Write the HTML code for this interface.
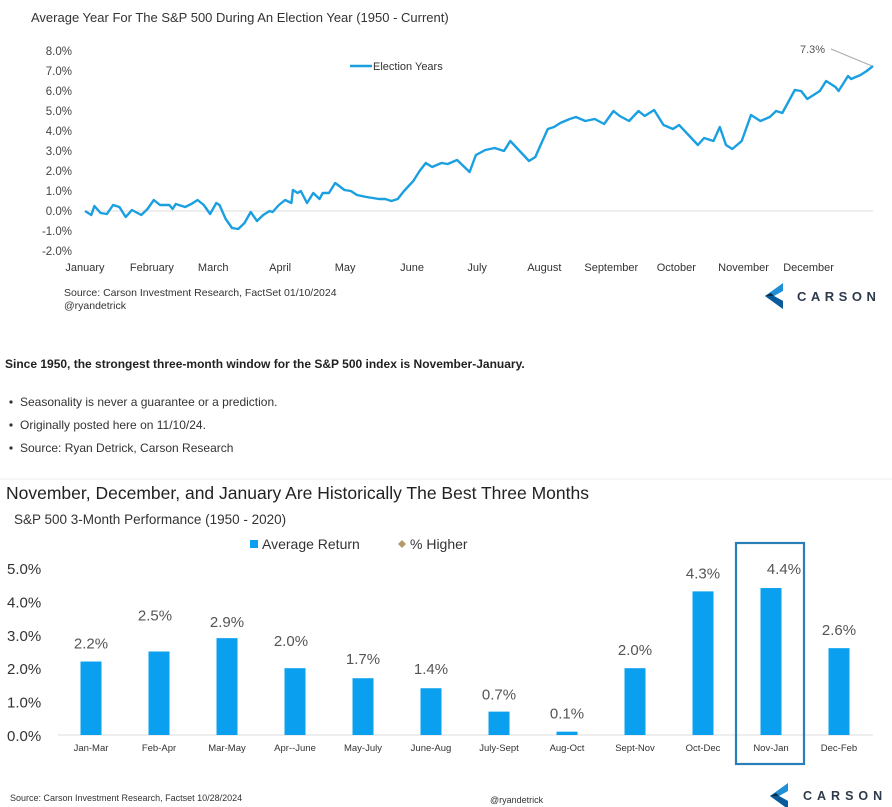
<!DOCTYPE html>
<html><head><meta charset="utf-8"><style>
body{margin:0;background:#fff;width:892px;height:807px;overflow:hidden;font-family:"Liberation Sans",sans-serif}
svg{position:absolute;left:0;top:0}
</style></head><body>
<svg width="892" height="807" viewBox="0 0 892 807">
<defs>
<g id="logo">
<polygon points="18,0 0,13 18,26 18,18 9,13 18,8" fill="#1f8fd6"/>
<polygon points="0,13 9,13 18,18 18,26" fill="#0b5a99"/>
<polygon points="0,13 6,10 9,13" fill="#0e2a44"/>
</g>
</defs>
<text x="31" y="22" font-size="13" fill="#333">Average Year For The S&amp;P 500 During An Election Year (1950 - Current)</text>
<g id="yAxisTop"></g>
<g id="xAxisTop"></g>
<g>
<line x1="350" y1="66" x2="372" y2="66" stroke="#1a9fe0" stroke-width="2.5"/>
<text x="373" y="70" font-size="11" fill="#333">Election Years</text>
</g>
<path id="lineTop" fill="none" stroke="#1a9fe0" stroke-width="2.4" stroke-linejoin="round"/>
<g>
<line x1="831" y1="49" x2="872" y2="66" stroke="#aaa" stroke-width="1"/>
<text x="800" y="53" font-size="11" fill="#555">7.3%</text>
</g>
<text x="64" y="296" font-size="10.5" fill="#333">Source: Carson Investment Research, FactSet 01/10/2024</text>
<text x="64" y="309" font-size="10.5" fill="#333">@ryandetrick</text>
<g>
<use href="#logo" x="765" y="283"/>
<text x="797" y="301" font-size="13" font-weight="bold" fill="#2d3a4a" letter-spacing="4.5">CARSON</text>
</g>
<text x="5" y="368" font-size="12" font-weight="bold" fill="#222">Since 1950, the strongest three-month window for the S&amp;P 500 index is November-January.</text>
<g font-size="12" fill="#333">
<circle cx="11" cy="402" r="1.6" fill="#333"/><text x="20" y="406">Seasonality is never a guarantee or a prediction.</text>
<circle cx="11" cy="425" r="1.6" fill="#333"/><text x="20" y="429">Originally posted here on 11/10/24.</text>
<circle cx="11" cy="448" r="1.6" fill="#333"/><text x="20" y="452">Source: Ryan Detrick, Carson Research</text>
</g>
<line x1="0" y1="479" x2="892" y2="479" stroke="#eee"/>
<text x="6" y="499" font-size="17.5" fill="#222">November, December, and January Are Historically The Best Three Months</text>
<text x="14" y="524" font-size="13.5" fill="#333">S&amp;P 500 3-Month Performance (1950 - 2020)</text>
<g>
<rect x="250" y="540" width="8" height="8" fill="#0aa0ef"/>
<text x="262" y="549" font-size="14" fill="#333">Average Return</text>
<polygon points="402,540 406,544 402,548 398,544" fill="#b59a6a"/>
<text x="410" y="549" font-size="14" fill="#333">% Higher</text>
</g>
<g id="yAxisBot"></g>
<g id="bars"></g>
<rect x="736" y="543" width="68" height="221" fill="none" stroke="#2a7fb8" stroke-width="2.2"/>
<text x="10" y="801" font-size="9" fill="#333">Source: Carson Investment Research, Factset 10/28/2024</text>
<text x="490" y="803" font-size="9" fill="#333">@ryandetrick</text>
<g>
<use href="#logo" x="770" y="783"/>
<text x="803" y="800" font-size="12.5" font-weight="bold" fill="#2d3a4a" letter-spacing="5">CARSON</text>
</g>
</svg>
<script>
const NS="http://www.w3.org/2000/svg";
// ---- top chart data ----
const topYTicks=[8,7,6,5,4,3,2,1,0,-1,-2];
const topMonths=["January","February","March","April","May","June","July","August","September","October","November","December"];
const topMonthDays=[0,21.4,41,62.4,83.2,104.6,125.4,146.9,168.3,189.1,210.6,231.4];
const topDays=[0,2,3,5,7,9,11,13,15,18,20,22,24,27,28,29,32,34,36,38,40,42,43,45,47,49,51,53,55,57,59,60,62,64,66,66.5,68,69,71,73,75,76,78,80,83,85,87,90,92,94,96,98,100,102,105,107,109,111,114,116,119,123,125,128,131,134,136,139,142,144,146,148,150,152,155,157,160,163,166,169,171,174,177,179,182,185,188,190,193,196,198,201,203,205,207,210,213,216,219,221,223,227,229,231,235,237,240,241,244,245,248,250,252];
const topVals=[0,-0.2,0.25,-0.1,-0.15,0.3,0.2,-0.3,0.05,-0.2,0.1,0.55,0.3,0.3,0.1,0.35,0.2,0.35,0.55,0.3,-0.15,0.4,0.3,-0.4,-0.85,-0.9,-0.6,-0.05,-0.5,-0.2,0,-0.05,0.3,0.55,0.4,1.05,0.9,1.0,0.4,0.9,0.6,0.9,0.9,1.4,1.05,1.0,0.8,0.7,0.65,0.6,0.6,0.5,0.6,1.0,1.5,2.0,2.4,2.2,2.4,2.35,2.55,1.95,2.8,3.05,3.15,3.0,3.5,3.0,2.5,2.7,3.4,4.1,4.2,4.4,4.6,4.7,4.5,4.6,4.35,5.0,4.75,4.5,5.0,4.75,5.05,4.3,4.1,4.3,3.8,3.3,3.65,3.5,4.2,3.3,3.1,3.5,4.8,4.5,4.7,5.0,4.9,6.05,6.0,5.6,6.0,6.5,6.2,6.0,6.75,6.6,6.8,7.0,7.25];
// ---- bottom chart data ----
const botYTicks=[5,4,3,2,1,0];
const botCats=["Jan-Mar","Feb-Apr","Mar-May","Apr--June","May-July","June-Aug","July-Sept","Aug-Oct","Sept-Nov","Oct-Dec","Nov-Jan","Dec-Feb"];
const botVals=[2.2,2.5,2.9,2.0,1.7,1.4,0.7,0.1,2.0,4.3,4.4,2.6];
const botLabels=["2.2%","2.5%","2.9%","2.0%","1.7%","1.4%","0.7%","0.1%","2.0%","4.3%","4.4%","2.6%"];

const tx=d=>85+d*(788/252);
const ty=v=>211-v*20;
const bx=i=>91+i*68;
const by=v=>735-v*33.4;
const fmt=v=>v.toFixed(1)+"%";

function el(tag,attrs,parent,text){const e=document.createElementNS(NS,tag);for(const k in attrs)e.setAttribute(k,attrs[k]);if(text!==undefined)e.textContent=text;parent.appendChild(e);return e;}

const yT=document.getElementById('yAxisTop');
topYTicks.forEach(v=>{
  const t=el('text',{x:72,y:ty(v)+4,'font-size':11.5,fill:'#444','text-anchor':'end'},yT,fmt(v));
  
  
});
const xT=document.getElementById('xAxisTop');
const base=el('line',{x1:85,y1:ty(0),x2:873,y2:ty(0),stroke:'#ddd','stroke-width':1},xT);


topMonths.forEach((m,i)=>{
  const t=el('text',{x:tx(topMonthDays[i]),y:271,'font-size':11,fill:'#333','text-anchor':'middle'},xT,m);
  
  
});
document.getElementById('lineTop').setAttribute('d',topDays.map((d,i)=>(i?'L':'M')+tx(d).toFixed(1)+','+ty(topVals[i]).toFixed(1)).join(''));

const yB=document.getElementById('yAxisBot');
botYTicks.forEach(v=>{
  const t=el('text',{x:7,y:by(v)+6,'font-size':15,fill:'#333'},yB,fmt(v));
  
  
});
const bars=document.getElementById('bars');
const bl=el('line',{x1:58,y1:735,x2:873,y2:735,stroke:'#ddd','stroke-width':1},bars);


const labelLift=[13,31,11,22,14,14,12,13,13,13,14,13];
const labelShift=[0,-4,0,-4,0,0,0,0,0,0,13,0];
botCats.forEach((c,i)=>{
  const r=el('rect',{x:bx(i)-10.5,y:by(botVals[i]),width:21,height:735-by(botVals[i]),fill:'#0aa0ef'},bars);
  
  
  const v=el('text',{x:bx(i)+labelShift[i],y:by(botVals[i])-labelLift[i],'font-size':15,fill:'#555','text-anchor':'middle'},bars,botLabels[i]);
  
  
  const t=el('text',{x:bx(i),y:751,'font-size':9.5,fill:'#333','text-anchor':'middle'},bars,c);
  
  
});
</script>
</body></html>
